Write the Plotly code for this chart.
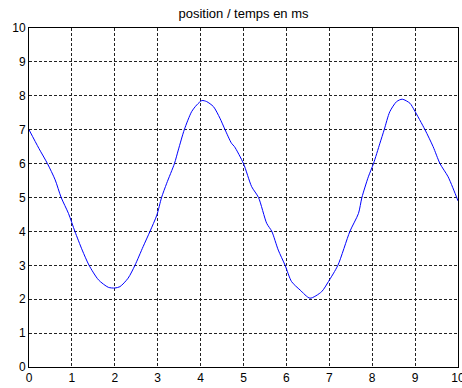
import plotly.graph_objects as go

# time in ms and measured position
t_ms = [0.0, 0.23, 0.43, 0.61, 0.75, 0.92, 1.07, 1.24, 1.40, 1.62, 1.85, 2.0, 2.12,
        2.31, 2.47, 2.66, 2.82, 2.98, 3.09, 3.21, 3.39, 3.48, 3.62, 3.79, 3.91, 4.03,
        4.14, 4.30, 4.45, 4.57, 4.72, 4.79, 5.0, 5.19, 5.35, 5.54, 5.66, 5.81, 5.97,
        6.12, 6.32, 6.55, 6.82, 6.98, 7.2, 7.48, 7.68, 7.76, 7.91, 8.03, 8.18, 8.28,
        8.41, 8.57, 8.70, 8.88, 8.98, 9.23, 9.42, 9.58, 9.77, 9.97, 10.0]
position = [7.0, 6.45, 6.0, 5.52, 5.0, 4.53, 4.0, 3.45, 3.0, 2.57, 2.35, 2.33, 2.37,
            2.62, 3.0, 3.55, 4.0, 4.48, 5.0, 5.42, 6.0, 6.4, 7.0, 7.53, 7.73, 7.86,
            7.83, 7.68, 7.34, 7.0, 6.6, 6.5, 6.0, 5.32, 5.0, 4.24, 4.0, 3.45, 3.0,
            2.52, 2.27, 2.03, 2.22, 2.52, 3.0, 4.0, 4.53, 5.0, 5.61, 6.0, 6.6, 7.0,
            7.53, 7.83, 7.90, 7.78, 7.58, 7.0, 6.5, 6.0, 5.61, 5.0, 4.9]

x_ticks = list(range(0, 11))
y_ticks = list(range(0, 11))
title_text = "position / temps en ms"

fig = go.Figure(go.Scatter(x=t_ms, y=position, mode="lines",
                           line=dict(color="#0000ff", width=1, shape="spline", smoothing=0.7),
                           showlegend=False))

axis_style = dict(
    range=[0, 10], showline=True, linecolor="black", linewidth=1, mirror=True,
    showgrid=True, gridcolor="#222222", gridwidth=1, griddash="3px,2px",
    zeroline=False, ticks="", ticklabeloverflow="allow", automargin=False,
    tickfont=dict(family="Liberation Sans, Arial", size=12, color="black"),
)

fig.update_xaxes(tickvals=x_ticks, ticktext=[str(v) for v in x_ticks], **axis_style)
fig.update_yaxes(tickvals=y_ticks, ticktext=[str(v) for v in y_ticks], **axis_style)

fig.update_layout(
    width=462, height=388,
    margin=dict(l=29, r=4, t=28, b=21, pad=0, autoexpand=False),
    paper_bgcolor="white", plot_bgcolor="white",
    title=dict(text=title_text, x=0.5, xref="paper", y=1 - 13 / 388, yref="container",
               xanchor="center", yanchor="middle",
               font=dict(family="Liberation Sans, Arial", size=13, color="black")),
)

fig.write_html("out.html")
